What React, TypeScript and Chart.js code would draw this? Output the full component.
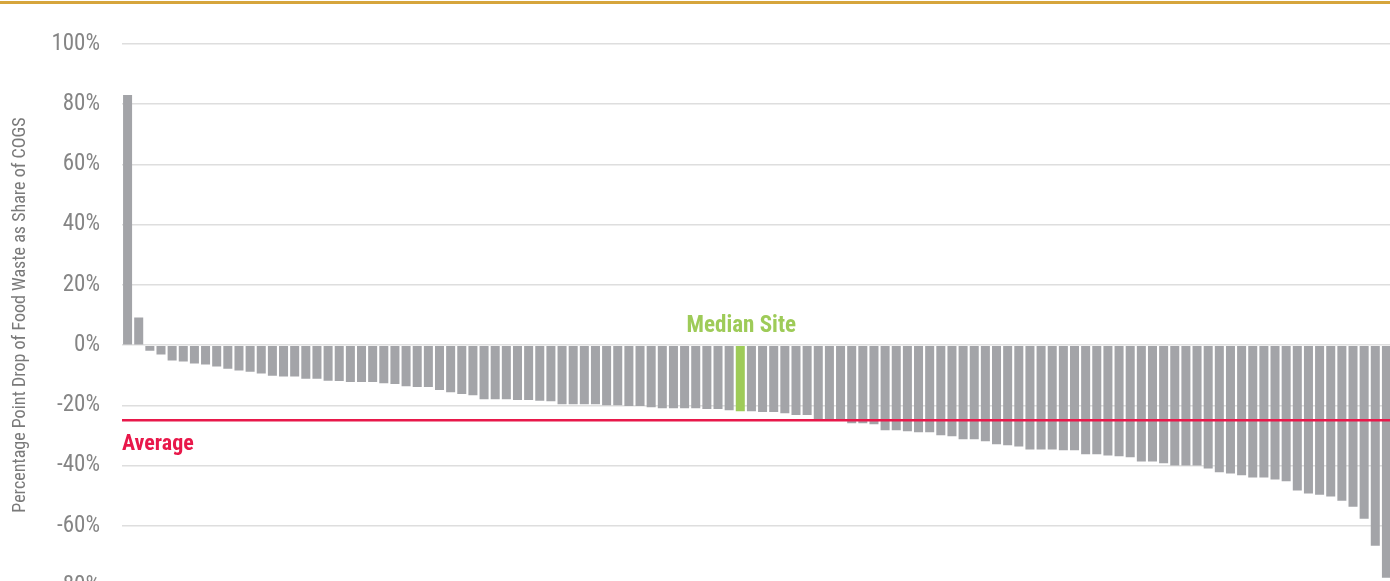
import React, { useEffect, useRef } from "react";
import { Chart, registerables } from "chart.js";

Chart.register(...registerables);

const VALUES: number[] = [
  83.1, 9.2, -1.8, -3.1, -5.1, -5.4, -6.1, -6.4, -7.1, -7.8,
  -8.4, -8.8, -9.4, -10.1, -10.4, -10.4, -11.1, -11.1, -11.8, -11.9,
  -12.2, -12.2, -12.2, -12.6, -12.9, -13.6, -13.9, -13.9, -14.9, -15.6,
  -16.2, -16.6, -17.9, -17.9, -17.9, -18.2, -18.2, -18.4, -18.6, -19.6,
  -19.6, -19.6, -19.6, -19.9, -19.9, -20.2, -20.2, -20.6, -20.9, -20.9,
  -20.9, -20.9, -21.2, -21.2, -21.6, -21.9, -21.9, -22.2, -22.2, -22.6,
  -23.2, -23.2, -24.7, -24.7, -24.7, -25.9, -25.9, -26.2, -28.2, -28.2,
  -28.6, -28.9, -28.9, -29.9, -30.2, -31.2, -31.2, -31.9, -32.9, -33.2,
  -33.6, -34.6, -34.6, -34.6, -34.9, -34.9, -36.2, -36.2, -36.6, -36.9,
  -37.2, -38.6, -38.6, -39.2, -39.9, -39.9, -39.9, -40.9, -42.2, -42.6,
  -43.2, -43.9, -43.9, -44.6, -45.2, -48.2, -49.2, -49.6, -50.2, -51.6,
  -53.6, -57.6, -66.6, -77.2,
];

const SITES: string[] = VALUES.map((_, i) => `Site ${i + 1}`);
const MEDIAN_INDEX = 55;
const AVERAGE = -24.9;
const Y_TICKS: number[] = [-80, -60, -40, -20, 0, 20, 40, 60, 80, 100];

const BAR_COLOR = "#a3a4a8";
const MEDIAN_COLOR = "#9ecb58";
const AVG_COLOR = "#e8184a";
const FONT = "'Liberation Sans Narrow', 'Roboto Condensed', Roboto, sans-serif";

const annotationPlugin = {
  id: "annotations",
  afterDatasetsDraw(chart: any) {
    const { ctx, chartArea, scales } = chart;
    const y = scales.y.getPixelForValue(AVERAGE);
    ctx.save();
    ctx.strokeStyle = AVG_COLOR;
    ctx.lineWidth = 2.5;
    ctx.beginPath();
    ctx.moveTo(chartArea.left, y);
    ctx.lineTo(chartArea.right, y);
    ctx.stroke();
    ctx.fillStyle = AVG_COLOR;
    ctx.font = `bold 22px ${FONT}`;
    ctx.textAlign = "left";
    ctx.textBaseline = "alphabetic";
    ctx.fillText("Average", chartArea.left, y + 30);

    const meta = chart.getDatasetMeta(0);
    const bar = meta.data[MEDIAN_INDEX];
    ctx.fillStyle = MEDIAN_COLOR;
    ctx.font = `bold 23px ${FONT}`;
    ctx.textAlign = "center";
    ctx.fillText("Median Site", bar.x + 1, scales.y.getPixelForValue(0) - 13);
    ctx.restore();
  },
};

export default function App() {
  const ref = useRef<HTMLCanvasElement | null>(null);

  useEffect(() => {
    if (!ref.current) return;
    const chart = new Chart(ref.current, {
      type: "bar",
      data: {
        labels: SITES,
        datasets: [
          {
            data: VALUES,
            backgroundColor: VALUES.map((_, i) => (i === MEDIAN_INDEX ? MEDIAN_COLOR : BAR_COLOR)),
            categoryPercentage: 1,
            barPercentage: 0.81,
          },
        ],
      },
      options: {
        responsive: false,
        animation: false,
        layout: { padding: { top: 44, bottom: 16, right: 8, left: 0 } },
        plugins: { legend: { display: false }, tooltip: { enabled: false } },
        scales: {
          x: { display: false },
          y: {
            min: -80,
            max: 100,
            afterFit: (scale: any) => {
              scale.width = 122;
            },
            afterBuildTicks: (scale: any) => {
              scale.ticks = Y_TICKS.map((v) => ({ value: v }));
            },
            border: { display: false },
            grid: { color: "#dedede", lineWidth: 1.5, drawTicks: false },
            ticks: {
              padding: 22,
              color: "#858585",
              font: { family: FONT, size: 23 },
              callback: (v: any) => `${v}%`,
            },
            title: {
              display: true,
              text: "Percentage Point Drop of Food Waste as Share of COGS",
              color: "#7a7a7a",
              font: { family: FONT, size: 18 },
              padding: { top: 10, bottom: 0 },
            },
          },
        },
      },
      plugins: [annotationPlugin],
    });
    return () => chart.destroy();
  }, []);

  return (
    <div style={{ position: "fixed", left: 0, top: 0, width: 1390, height: 581, overflow: "hidden", background: "#fff" }}>
      <div style={{ position: "absolute", left: 0, top: 1, width: 1390, height: 3, background: "#d6a53c" }} />
      <canvas ref={ref} width={1400} height={622} style={{ position: "absolute", left: 0, top: 0 }} />
    </div>
  );
}
